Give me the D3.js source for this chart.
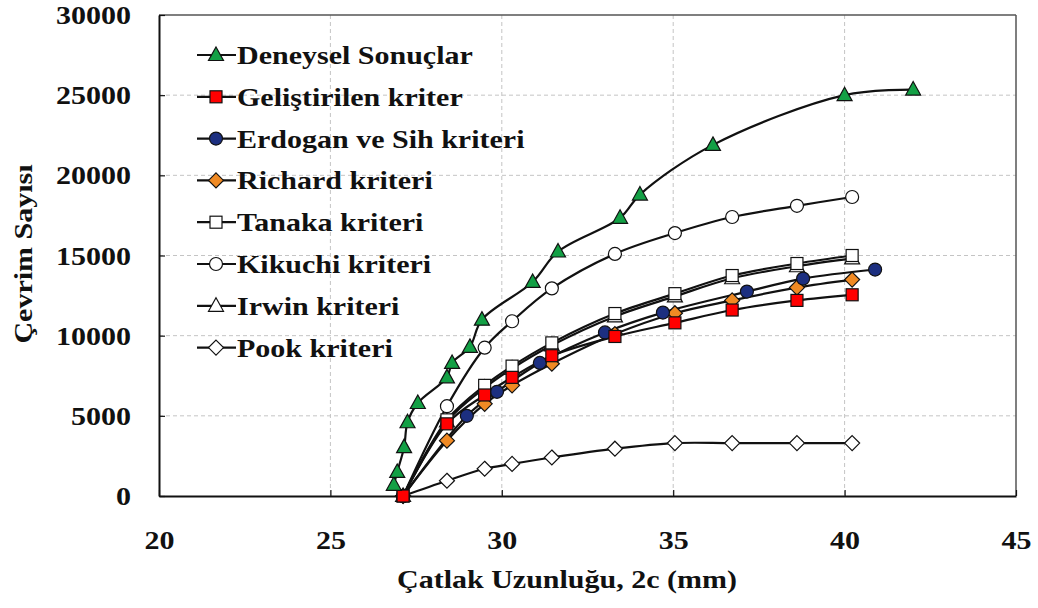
<!DOCTYPE html>
<html>
<head>
<meta charset="utf-8">
<script src="https://cdn.jsdelivr.net/npm/d3@7"></script>
<style>
  html, body { margin: 0; padding: 0; background: #fff; }
  svg text { font-family: "Liberation Serif", "Times New Roman", serif; font-weight: bold; fill: #111; }
</style>
</head>
<body>
<svg id="chart" width="1038" height="608"></svg>
<script>
// ---- data ----
const xTicks = [20, 25, 30, 35, 40, 45];
const yTicks = [0, 5000, 10000, 15000, 20000, 25000, 30000];
const xLabel = "Çatlak Uzunluğu, 2c (mm)";
const yLabel = "Çevrim Sayısı";

const seriesNames = ["Deneysel Sonuçlar", "Geliştirilen kriter", "Erdogan ve Sih kriteri",
  "Richard kriteri", "Tanaka kriteri", "Kikuchi kriteri", "Irwin kriteri", "Pook kriteri"];

const deneyselX = [26.85, 26.95, 27.15, 27.25, 27.55, 28.4, 28.55, 29.07, 29.42, 30.9, 31.64, 33.45, 34.03, 36.16, 40.0, 42.0];
const deneyselY = [700, 1500, 3050, 4600, 5800, 7400, 8300, 9300, 11000, 13350, 15250, 17350, 18800, 21900, 25000, 25350];

const kriterX = [27.12, 28.4, 29.5, 30.3, 31.46, 33.3, 35.05, 36.72, 38.61, 40.22];
const gelistirilenY = [0, 4500, 6300, 7400, 8750, 9950, 10800, 11600, 12200, 12550];
const richardY = [0, 3450, 5750, 6900, 8250, 10100, 11400, 12200, 13000, 13500];
const tanakaY = [0, 4750, 6900, 8100, 9550, 11380, 12620, 13750, 14500, 15000];
const kikuchiY = [0, 5600, 9250, 10900, 12950, 15100, 16400, 17400, 18100, 18650];
const irwinY = [0, 4650, 6750, 7950, 9400, 11200, 12450, 13580, 14330, 14820];
const pookY = [0, 950, 1700, 2000, 2400, 2950, 3300, 3300, 3300, 3300];

const erdoganX = [27.12, 28.98, 29.86, 31.11, 33.01, 34.7, 37.15, 38.79, 40.89];
const erdoganY = [0, 5000, 6500, 8300, 10200, 11440, 12750, 13560, 14125];

// ---- layout ----
const svg = d3.select("#chart");
const M = { left: 159, right: 1016, top: 15, bottom: 496 };
const x = d3.scaleLinear().domain([20, 45]).range([M.left, M.right]);
const y = d3.scaleLinear().domain([0, 30000]).range([M.bottom, M.top]);
const SX = 1.2;
const FS = 25;

const series = [
  { name: seriesNames[0], xs: deneyselX, ys: deneyselY, shape: "tri", fill: "#13a045" },
  { name: seriesNames[1], xs: kriterX, ys: gelistirilenY, shape: "sq", fill: "#ff0000" },
  { name: seriesNames[2], xs: erdoganX, ys: erdoganY, shape: "circ", fill: "#1c2f80" },
  { name: seriesNames[3], xs: kriterX, ys: richardY, shape: "dia", fill: "#f08a24" },
  { name: seriesNames[4], xs: kriterX, ys: tanakaY, shape: "sq", fill: "#ffffff" },
  { name: seriesNames[5], xs: kriterX, ys: kikuchiY, shape: "circ", fill: "#ffffff" },
  { name: seriesNames[6], xs: kriterX, ys: irwinY, shape: "tri", fill: "#ffffff" },
  { name: seriesNames[7], xs: kriterX, ys: pookY, shape: "dia", fill: "#ffffff" }
];

// gridlines
const grid = svg.append("g");
grid.selectAll("line.h").data(yTicks.slice(1, -1)).join("line")
  .attr("x1", M.left).attr("x2", M.right)
  .attr("y1", d => y(d)).attr("y2", d => y(d))
  .attr("stroke", "#c4c4c4").attr("stroke-width", 1).attr("stroke-dasharray", "4,3");
grid.selectAll("line.v").data(xTicks.slice(1, -1)).join("line")
  .attr("y1", M.top).attr("y2", M.bottom)
  .attr("x1", d => x(d)).attr("x2", d => x(d))
  .attr("stroke", "#c4c4c4").attr("stroke-width", 1).attr("stroke-dasharray", "4,3");

// frame (top/right)
svg.append("line").attr("x1", M.left).attr("x2", M.right).attr("y1", M.top).attr("y2", M.top)
  .attr("stroke", "#555").attr("stroke-width", 1.5);
svg.append("line").attr("x1", M.right).attr("x2", M.right).attr("y1", M.top).attr("y2", M.bottom)
  .attr("stroke", "#555").attr("stroke-width", 1.5);

// axes
const xAxis = svg.append("g").attr("transform", `translate(0,${M.bottom})`)
  .call(d3.axisBottom(x).tickValues(xTicks).tickSize(-6).tickSizeOuter(0).tickFormat(d3.format("d")));
const yAxis = svg.append("g").attr("transform", `translate(${M.left},0)`)
  .call(d3.axisLeft(y).tickValues(yTicks).tickSize(-6).tickSizeOuter(0).tickFormat(d3.format("d")));
[xAxis, yAxis].forEach(a => {
  a.select(".domain").attr("stroke", "#111").attr("stroke-width", 2);
  a.selectAll(".tick line").attr("stroke", "#111").attr("stroke-width", 1.2);
  a.selectAll(".tick text").attr("font-size", FS).attr("font-family", "Liberation Serif, serif")
    .attr("font-weight", "bold").attr("fill", "#111");
});
yAxis.selectAll(".tick text").attr("x", -28 / SX).attr("dy", "0.34em")
  .attr("transform", `scale(${SX},1)`);
xAxis.selectAll(".tick text").attr("y", 53).attr("dy", 0)
  .attr("transform", `scale(${SX},1)`);

// axis titles
svg.append("text").attr("text-anchor", "middle").attr("font-size", FS)
  .attr("transform", `translate(567,588) scale(${SX},1)`)
  .text(xLabel);
svg.append("text").attr("text-anchor", "middle").attr("font-size", FS)
  .attr("transform", `translate(32,254) rotate(-90) scale(${SX},1)`)
  .text(yLabel);

// marker drawing
function marker(g, shape, fill) {
  let m;
  if (shape === "tri") m = g.append("path").attr("d", "M0,-8L7.5,5.5L-7.5,5.5Z");
  else if (shape === "sq") m = g.append("rect").attr("x", -6).attr("y", -6).attr("width", 12).attr("height", 12);
  else if (shape === "circ") m = g.append("circle").attr("r", 6.5);
  else m = g.append("path").attr("d", "M0,-7.5L7.5,0L0,7.5L-7.5,0Z");
  m.attr("fill", fill).attr("stroke", "#111").attr("stroke-width", 1.2);
}

const line = d3.line().x(d => x(d[0])).y(d => y(d[1])).curve(d3.curveCatmullRom.alpha(0.5));
const plot = svg.append("g");
const order = [7, 6, 5, 4, 3, 2, 1, 0];
order.forEach(i => {
  const s = series[i];
  const pts = s.xs.map((v, k) => [v, s.ys[k]]);
  plot.append("path").attr("d", line(pts)).attr("fill", "none")
    .attr("stroke", "#111").attr("stroke-width", 2.2);
});
order.forEach(i => {
  const s = series[i];
  s.xs.forEach((v, k) => {
    const g = plot.append("g").attr("transform", `translate(${x(v)},${y(s.ys[k])})`);
    marker(g, s.shape, s.fill);
  });
});

// legend
const leg = svg.append("g");
series.forEach((s, i) => {
  const cy = 55 + i * 41.8;
  leg.append("line").attr("x1", 197).attr("x2", 236).attr("y1", cy).attr("y2", cy)
    .attr("stroke", "#111").attr("stroke-width", 2.2);
  const g = leg.append("g").attr("transform", `translate(216,${cy})`);
  marker(g, s.shape, s.fill);
  leg.append("text").attr("font-size", FS)
    .attr("transform", `translate(237,${cy + 9}) scale(${SX},1)`)
    .text(s.name);
});
</script>
</body>
</html>
